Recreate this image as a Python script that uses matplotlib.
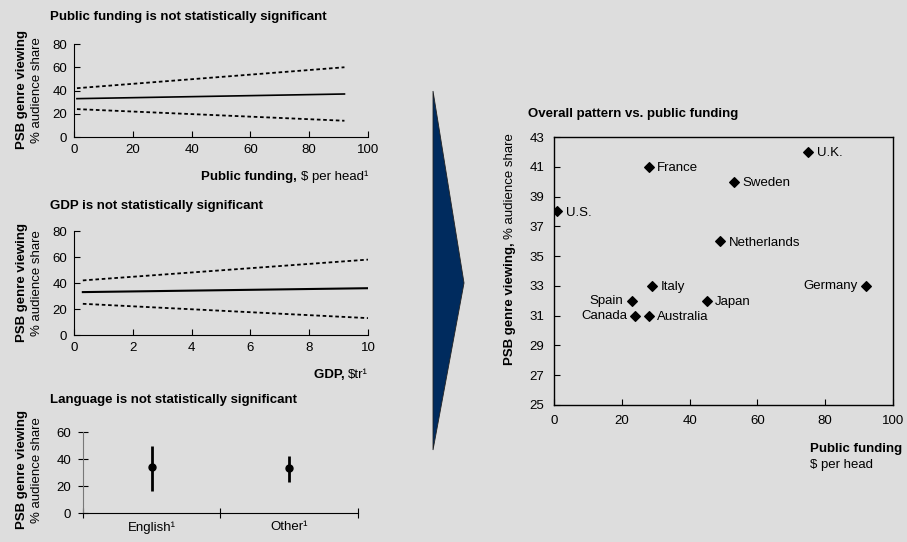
import numpy as np
import matplotlib.pyplot as plt
from matplotlib.patches import Polygon

plt.rcParams['font.family'] = ['Liberation Sans', 'DejaVu Sans']
FS = 9.5
plt.rcParams['font.size'] = FS

BG = '#dddddd'

# panel 1: regression vs public funding (start / end of fit and band)
pf_x     = [1, 92]
pf_fit   = [33, 37]
pf_upper = [42, 60]
pf_lower = [24, 14]

# panel 2: regression vs GDP
gdp_x     = [0.3, 10]
gdp_fit   = [33, 36]
gdp_upper = [42, 58]
gdp_lower = [24, 13]

# panel 3: language
lang_labels = ['English\u00b9', 'Other\u00b9']
lang_mean   = [34, 33]
lang_lo     = [16, 23]
lang_hi     = [50, 42]

# right: overall pattern
countries = ['U.S.', 'France', 'U.K.', 'Sweden', 'Netherlands', 'Italy',
             'Germany', 'Spain', 'Japan', 'Canada', 'Australia']
funding   = [1, 28, 75, 53, 49, 29, 92, 23, 45, 24, 28]
viewing   = [38, 41, 42, 40, 36, 33, 33, 32, 32, 31, 31]
label_left = {'Germany', 'Spain', 'Canada'}

fig = plt.figure(figsize=(9.07, 5.42), dpi=100, facecolor=BG)
renderer = fig.canvas.get_renderer()


def style_left(ax):
    ax.set_facecolor(BG)
    ax.spines['top'].set_visible(False)
    ax.spines['right'].set_visible(False)
    ax.tick_params(direction='in', length=4, width=0.8, labelsize=FS, pad=5)


def two_line_ylabel(xb, xn, yc):
    fig.text(xb, yc, 'PSB genre viewing', rotation=90, fontweight='bold',
             ha='center', va='center', fontsize=FS)
    fig.text(xn, yc, '% audience share', rotation=90,
             ha='center', va='center', fontsize=FS)


def bold_then_normal(x_right, y, bold, normal):
    t = fig.text(x_right, y, normal, ha='right', va='baseline', fontsize=FS)
    w = t.get_window_extent(renderer).width / fig.bbox.width
    fig.text(x_right - w, y, bold, ha='right', va='baseline',
             fontweight='bold', fontsize=FS)


# ---- panel 1
ax1 = fig.add_axes([0.0816, 0.7472, 0.3241, 0.1716])
style_left(ax1)
ax1.plot(pf_x, pf_fit, color='black', lw=1.2)
ax1.plot(pf_x, pf_upper, color='black', lw=1.3, ls=(0, (2, 1.5)))
ax1.plot(pf_x, pf_lower, color='black', lw=1.3, ls=(0, (2, 1.5)))
ax1.set_xlim(0, 100)
ax1.set_ylim(0, 80)
ax1.set_xticks(range(0, 101, 20))
ax1.set_yticks(range(0, 81, 20))
fig.text(0.055, 0.968, 'Public funding is not statistically significant',
         fontweight='bold', va='center', fontsize=FS)
bold_then_normal(0.4057, 0.668, 'Public funding, ', '\\$ per head\u00b9')
two_line_ylabel(0.024, 0.041, 0.834)

# ---- panel 2
ax2 = fig.add_axes([0.0816, 0.3819, 0.3241, 0.1919])
style_left(ax2)
ax2.plot(gdp_x, gdp_fit, color='black', lw=1.5)
ax2.plot(gdp_x, gdp_upper, color='black', lw=1.3, ls=(0, (2, 1.5)))
ax2.plot(gdp_x, gdp_lower, color='black', lw=1.3, ls=(0, (2, 1.5)))
ax2.set_xlim(0, 10)
ax2.set_ylim(0, 80)
ax2.set_xticks(range(0, 11, 2))
ax2.set_yticks(range(0, 81, 20))
fig.text(0.055, 0.620, 'GDP is not statistically significant',
         fontweight='bold', va='center', fontsize=FS)
bold_then_normal(0.4057, 0.303, 'GDP, ', '\\$tr\u00b9')
two_line_ylabel(0.024, 0.041, 0.478)

# ---- panel 3
ax3 = fig.add_axes([0.0915, 0.0535, 0.3032, 0.1494])
style_left(ax3)
ax3.spines['left'].set_color('#777777')
ax3.tick_params(direction='inout', length=7)
pos = [0.5, 1.5]
ax3.vlines(pos, lang_lo, lang_hi, color='black', lw=2)
ax3.plot(pos, lang_mean, 'o', color='black', ms=5)
ax3.set_xlim(0, 2)
ax3.set_ylim(0, 60)
ax3.set_xticks([0, 1, 2])
ax3.set_xticklabels([])
ax3.set_xticks(pos, minor=True)
ax3.set_xticklabels(lang_labels, minor=True)
ax3.tick_params(axis='x', which='minor', length=0, pad=6)
ax3.set_yticks(range(0, 61, 20))
fig.text(0.055, 0.262, 'Language is not statistically significant',
         fontweight='bold', va='center', fontsize=FS)
two_line_ylabel(0.024, 0.041, 0.133)

# ---- arrow
arrow = Polygon([[0.4774, 0.8321], [0.5116, 0.4779], [0.4774, 0.1697]],
                closed=True, transform=fig.transFigure, facecolor='#002b5e',
                edgecolor='#222222', lw=0.6)
fig.patches.append(arrow)

# ---- right panel
ax4 = fig.add_axes([0.6108, 0.2528, 0.3738, 0.4944])
ax4.set_facecolor(BG)
for s in ax4.spines.values():
    s.set_linewidth(1.0)
ax4.scatter(funding, viewing, marker='D', s=24, color='black', zorder=3)
for name, x, y in zip(countries, funding, viewing):
    if name in label_left:
        ax4.annotate(name, (x, y), xytext=(-6, 0), textcoords='offset points',
                     ha='right', va='center', fontsize=FS)
    else:
        ax4.annotate(name, (x, y), xytext=(6, -1), textcoords='offset points',
                     ha='left', va='center', fontsize=FS)
ax4.set_xlim(0, 100)
ax4.set_ylim(25, 43)
ax4.set_xticks(range(0, 101, 20))
ax4.set_yticks(range(25, 44, 2))
ax4.tick_params(direction='in', length=4, width=0.8, labelsize=FS, pad=7)
fig.text(0.582, 0.789, 'Overall pattern vs. public funding',
         fontweight='bold', va='center', fontsize=FS)
fig.text(0.9945, 0.1716, 'Public funding', fontweight='bold', ha='right',
         va='center', fontsize=FS)
fig.text(0.893, 0.142, '\\$ per head', ha='left', va='center', fontsize=FS)

yl_bold = fig.text(0.562, 0.327, 'PSB genre viewing,', rotation=90,
                   fontweight='bold', ha='center', va='bottom', fontsize=FS)
bb = yl_bold.get_window_extent(renderer)
fig.text(0.562, (bb.y1 + 3) / fig.bbox.height, '% audience share', rotation=90,
         ha='center', va='bottom', fontsize=FS)

fig.savefig('out.png', dpi=100, facecolor=BG)
